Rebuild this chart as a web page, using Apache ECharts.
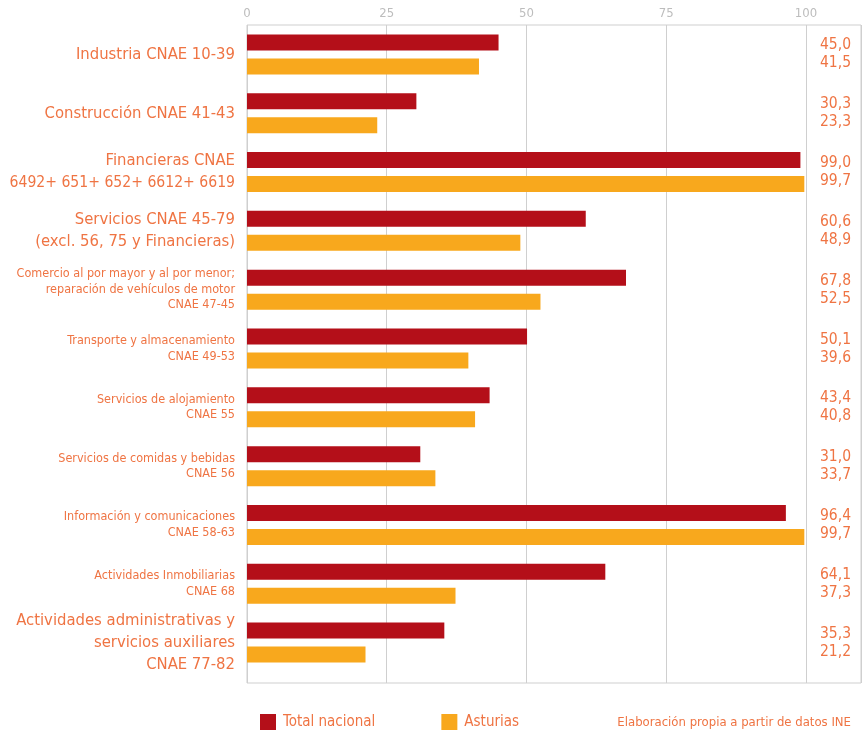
<!DOCTYPE html>
<html>
<head>
<meta charset="utf-8">
<script src="https://cdn.jsdelivr.net/npm/echarts@6/dist/echarts.min.js"></script>
<style>
  html, body { margin: 0; padding: 0; background: #fff; }
  #chart { width: 863px; height: 733px; }
</style>
</head>
<body>
<div id="chart"></div>
<script>
// Sector names (left axis), one entry per pair of bars
const categories = [
  'Industria CNAE 10-39',
  'Construcción CNAE 41-43',
  'Financieras CNAE\n6492+ 651+ 652+ 6612+ 6619',
  'Servicios CNAE 45-79\n(excl. 56, 75 y Financieras)',
  'Comercio al por mayor y al por menor;\nreparación de vehículos de motor\nCNAE 47-45',
  'Transporte y almacenamiento\nCNAE 49-53',
  'Servicios de alojamiento\nCNAE 55',
  'Servicios de comidas y bebidas\nCNAE 56',
  'Información y comunicaciones\nCNAE 58-63',
  'Actividades Inmobiliarias\nCNAE 68',
  'Actividades administrativas y\nservicios auxiliares\nCNAE 77-82'
];
const seriesNames = ['Total nacional', 'Asturias'];
const totalNacional = [45.0, 30.3, 99.0, 60.6, 67.8, 50.1, 43.4, 31.0, 96.4, 64.1, 35.3];
const asturias = [41.5, 23.3, 99.7, 48.9, 52.5, 39.6, 40.8, 33.7, 99.7, 37.3, 21.2];
const tickStep = 25;
const sourceNote = 'Elaboración propia a partir de datos INE';

// Sectors whose names are set in the larger type
const headlineRows = new Set([0, 1, 2, 3, 10]);

const FONT = '"DejaVu Sans Condensed", "Liberation Sans Narrow", sans-serif';
const TEXT = '#ef7443';
const RED = '#b40f19';
const ORANGE = '#f8a81d';
const LINE = '#cfcfcf';
const X_MAX = 109.84;
const BIG = 16.5, SMALL = 12.5, LABEL_MAX_W = 226;

const fmt = v => v.toFixed(1).replace('.', ',');

// Shrink any name line that would spill past the left edge
const measureCtx = document.createElement('canvas').getContext('2d');
function fittedSize(line, size) {
  measureCtx.font = `${size}px ${FONT}`;
  const w = measureCtx.measureText(line).width;
  return w > LABEL_MAX_W ? Math.floor(size * LABEL_MAX_W / w * 10) / 10 : size;
}
const nameRich = {};
const nameKeys = categories.map((name, i) => name.split('\n').map((line, j) => {
  const big = headlineRows.has(i);
  const size = fittedSize(line, big ? BIG : SMALL);
  const key = `r${i}_${j}`;
  nameRich[key] = { fontSize: size, lineHeight: big ? 22 : 15.5, color: TEXT, fontFamily: FONT, align: 'right' };
  return key;
}));

const chart = echarts.init(document.getElementById('chart'), null, { renderer: 'canvas' });

chart.setOption({
  animation: false,
  backgroundColor: '#fff',
  textStyle: { fontFamily: FONT },
  grid: [
    // frame with the top scale and vertical guides
    { left: 247, right: 2, top: 25, bottom: 50, show: true, borderColor: LINE, borderWidth: 1,
      outerBoundsMode: 'none', containLabel: false },
    // area holding the bars
    { left: 247, right: 2, top: 25, bottom: 61, outerBoundsMode: 'none', containLabel: false }
  ],
  xAxis: [
    {
      gridIndex: 0, type: 'value', position: 'top', min: 0, max: X_MAX, interval: tickStep,
      axisLine: { show: false }, axisTick: { show: false },
      splitLine: { show: true, lineStyle: { color: LINE, width: 1 } },
      axisLabel: {
        color: '#bdbdbd', fontSize: 13, fontFamily: FONT, margin: 5,
        formatter: v => (v > 100 ? '' : String(v))
      }
    },
    { gridIndex: 1, type: 'value', min: 0, max: X_MAX, show: false }
  ],
  yAxis: [
    { gridIndex: 0, type: 'value', min: 0, max: 1, show: false },
    {
      gridIndex: 1, type: 'category', inverse: true, data: categories,
      axisLine: { show: false }, axisTick: { show: false }, splitLine: { show: false },
      axisLabel: {
        margin: 12, align: 'right',
        formatter: (value, index) =>
          value.split('\n').map((l, j) => `{${nameKeys[index][j]}|${l}}`).join('\n'),
        rich: nameRich
      }
    },
    {
      gridIndex: 1, type: 'category', inverse: true, position: 'right', data: categories,
      axisLine: { show: false }, axisTick: { show: false }, splitLine: { show: false },
      axisLabel: {
        inside: true, margin: 10, align: 'right', padding: [5, 0, 0, 0],
        color: TEXT, fontSize: 15.5, lineHeight: 18, fontFamily: FONT,
        formatter: (value, index) => `${fmt(totalNacional[index])}\n${fmt(asturias[index])}`
      }
    }
  ],
  legend: {
    left: 260, top: 714, padding: 0, itemWidth: 16, itemHeight: 16, itemGap: 66,
    icon: 'rect',
    textStyle: { color: TEXT, fontSize: 15, fontFamily: FONT, padding: [0, 0, 0, 2] },
    data: seriesNames
  },
  graphic: [
    {
      type: 'text', right: 12, top: 716,
      style: { text: sourceNote, fill: TEXT, font: `13px ${FONT}` }
    }
  ],
  series: [
    {
      name: seriesNames[0], type: 'bar', xAxisIndex: 1, yAxisIndex: 1,
      data: totalNacional, barWidth: 16, barGap: '50%',
      itemStyle: { color: RED }
    },
    {
      name: seriesNames[1], type: 'bar', xAxisIndex: 1, yAxisIndex: 1,
      data: asturias, barWidth: 16, barGap: '50%',
      itemStyle: { color: ORANGE }
    }
  ]
});
</script>
</body>
</html>
